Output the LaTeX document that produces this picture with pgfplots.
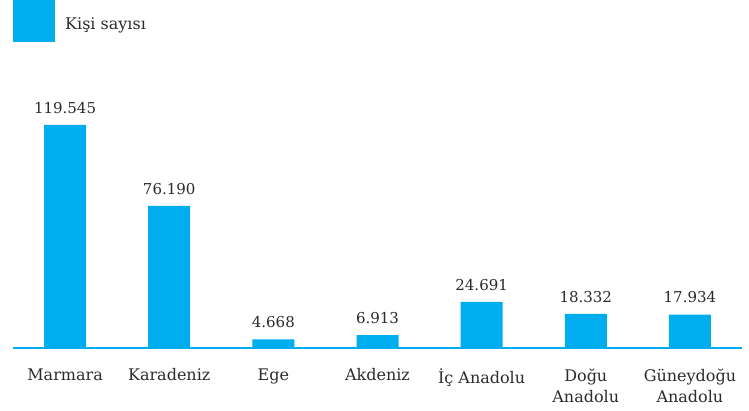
\documentclass[border=0pt]{standalone}
\usepackage{pgfplots}
\pgfplotsset{compat=1.18}
\usepackage{fontspec}
\setmainfont{DejaVu Serif}
\definecolor{barblue}{HTML}{00AEEF}
\definecolor{txt}{HTML}{2B2B2B}

\begin{document}
\begin{tikzpicture}
\useasboundingbox (-13pt,-63pt) rectangle (736pt,348pt);
\begin{axis}[
    width=729pt, height=348pt, scale only axis,
    ybar, bar width=42pt,
    xmin=-0.5, xmax=6.5,
    ymin=0, ymax=186555,
    hide y axis,
    axis x line=bottom,
    x axis line style={-, draw=barblue, line width=1.5pt},
    xtick=data,
    major tick length=0pt,
    xticklabels={Marmara, Karadeniz, Ege, Akdeniz, İç Anadolu, {Doğu\\Anadolu}, {Güneydoğu\\Anadolu}},
    xticklabel style={align=center, text=txt, font=\fontsize{16}{21}\selectfont, yshift=-17pt},
    point meta=explicit symbolic,
    nodes near coords,
    every node near coord/.append style={text=txt, font=\fontsize{15}{18}\selectfont, yshift=8pt},
    legend style={at={(0,1)}, anchor=north west, draw=none, fill=none, inner sep=0pt,
        font=\fontsize{16}{19}\selectfont, text=txt,
        nodes={yshift=-3pt}},
    legend image code/.code={\fill[barblue] (0pt,-21pt) rectangle (42pt,21pt);},
    /tikz/every odd column/.append style={column sep=8pt},
]
\addplot[fill=barblue, draw=none] coordinates {
    (0,119545)[119.545]
    (1,76190)[76.190]
    (2,4668)[4.668]
    (3,6913)[6.913]
    (4,24691)[24.691]
    (5,18332)[18.332]
    (6,17934)[17.934]
};
\legend{Kişi sayısı}
\end{axis}
\end{tikzpicture}
\end{document}
